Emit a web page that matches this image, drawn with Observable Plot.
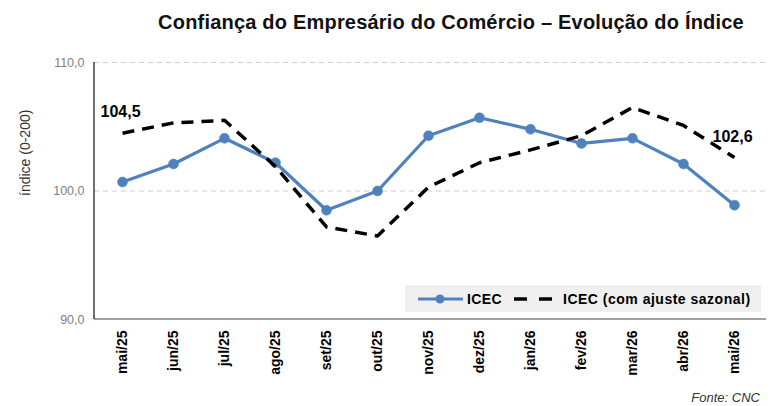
<!DOCTYPE html>
<html>
<head>
<meta charset="utf-8">
<script src="https://cdn.jsdelivr.net/npm/d3@7"></script>
<script src="https://cdn.jsdelivr.net/npm/@observablehq/plot@0.6"></script>
<style>
  body { margin: 0; background: #fff; font-family: "Liberation Sans", Arial, sans-serif; }
  #wrap { position: relative; width: 771px; height: 406px; overflow: hidden; }
  #title { height: 40px; line-height: 44px; font-weight: bold; font-size: 20px; color: #111; letter-spacing: 0.2px;
           padding-left: 131px; width: 640px; text-align: center; white-space: nowrap; }
  #caption { position: absolute; top: 390px; right: 11px; height: 16px; line-height: 16px;
             font-style: italic; font-size: 13px; color: #333; }
  #legend { position: absolute; left: 405px; top: 285px; width: 356px; height: 27px; background: #f0f0f0; }
</style>
</head>
<body>
<div id="wrap">
  <div id="title">Confiança do Empresário do Comércio – Evolução do Índice</div>
  <div id="chart"></div>
  <div id="legend"></div>
  <div id="caption">Fonte: CNC</div>
</div>
<script>
const months = ["mai/25","jun/25","jul/25","ago/25","set/25","out/25","nov/25","dez/25","jan/26","fev/26","mar/26","abr/26","mai/26"];
const icec = [100.7, 102.1, 104.1, 102.2, 98.5, 100.0, 104.3, 105.7, 104.8, 103.7, 104.1, 102.1, 98.9];
const icecSaz = [104.5, 105.3, 105.5, 101.9, 97.2, 96.5, 100.3, 102.2, 103.2, 104.3, 106.5, 105.1, 102.6];
const yTicks = [90, 110, 100];
const seriesNames = ["ICEC", "ICEC (com ajuste sazonal)"];
const yLabel = "índice (0-200)";

const blue = "#4f81bd";
const fmt = v => v.toFixed(1).replace(".", ",");

const dataA = months.map((m, i) => ({month: m, value: icec[i]}));
const dataB = months.map((m, i) => ({month: m, value: icecSaz[i]}));
const labelled = [dataB[0], dataB[dataB.length - 1]];

const axisLines = (index, scales, values, dims) => {
  const g = d3.create("svg:g");
  g.append("line")
    .attr("x1", dims.marginLeft).attr("x2", dims.width - dims.marginRight)
    .attr("y1", dims.height - dims.marginBottom).attr("y2", dims.height - dims.marginBottom)
    .attr("stroke", "#808080").attr("stroke-width", 1.3);
  g.append("line")
    .attr("x1", dims.marginLeft).attr("x2", dims.marginLeft)
    .attr("y1", dims.marginTop).attr("y2", dims.height - dims.marginBottom)
    .attr("stroke", "#222").attr("stroke-width", 1.3);
  return g.node();
};

const chart = Plot.plot({
  width: 771,
  height: 350,
  marginTop: 22,
  marginBottom: 71,
  marginLeft: 94,
  marginRight: 5,
  style: {fontFamily: "'Liberation Sans', Arial, sans-serif", background: "transparent", overflow: "visible"},
  x: {type: "point", domain: months, range: [94, 762], padding: 0.5},
  y: {domain: [90, 110]},
  marks: [
    Plot.ruleY([100, 110], {stroke: "#d0d0d0", strokeDasharray: "5,4", strokeWidth: 1}),
    Plot.axisY({ticks: yTicks, tickFormat: fmt, tickSize: 0, tickPadding: 10, fontSize: 12.5, fill: "#808080", label: null}),
    Plot.axisX({tickRotate: -90, tickSize: 0, tickPadding: 11, fontSize: 14, fontWeight: "bold", fill: "#000", label: null}),
    Plot.text([yLabel], {text: d => d, frameAnchor: "left", rotate: -90, dx: -69, dy: 5, fontSize: 14, fill: "#333"}),
    axisLines,
    Plot.line(dataA, {x: "month", y: "value", stroke: blue, strokeWidth: 3.2, style: {filter: "drop-shadow(1px 2px 1.5px rgba(0,0,0,0.25))"}}),
    Plot.dot(dataA, {x: "month", y: "value", r: 5, fill: blue, stroke: blue, strokeWidth: 0.5}),
    Plot.line(dataB, {x: "month", y: "value", stroke: "#000", strokeWidth: 3.5, strokeDasharray: "12,8", strokeLinecap: "butt"}),
    Plot.text(labelled, {x: "month", y: "value", text: d => fmt(d.value), dy: -21, dx: -2, fontSize: 16, fontWeight: "bold", fill: "#000"})
  ]
});
document.getElementById("chart").appendChild(chart);

// legend
const leg = d3.select("#legend").append("svg").attr("width", 356).attr("height", 27)
  .style("font-family", "'Liberation Sans', Arial, sans-serif");
leg.append("line").attr("x1", 13).attr("x2", 58).attr("y1", 14).attr("y2", 14).attr("stroke", blue).attr("stroke-width", 3);
leg.append("circle").attr("cx", 35).attr("cy", 14).attr("r", 4.5).attr("fill", blue);
leg.append("text").attr("x", 62).attr("y", 14).attr("dy", "0.35em").attr("font-size", 14).attr("font-weight", "bold").attr("letter-spacing", "0.4px").text(seriesNames[0]);
leg.append("line").attr("x1", 109).attr("x2", 148).attr("y1", 14).attr("y2", 14).attr("stroke", "#000").attr("stroke-width", 3.5).attr("stroke-dasharray", "13,12");
leg.append("text").attr("x", 158).attr("y", 14).attr("dy", "0.35em").attr("font-size", 14).attr("font-weight", "bold").attr("letter-spacing", "0.5px").text(seriesNames[1]);
</script>
</body>
</html>
